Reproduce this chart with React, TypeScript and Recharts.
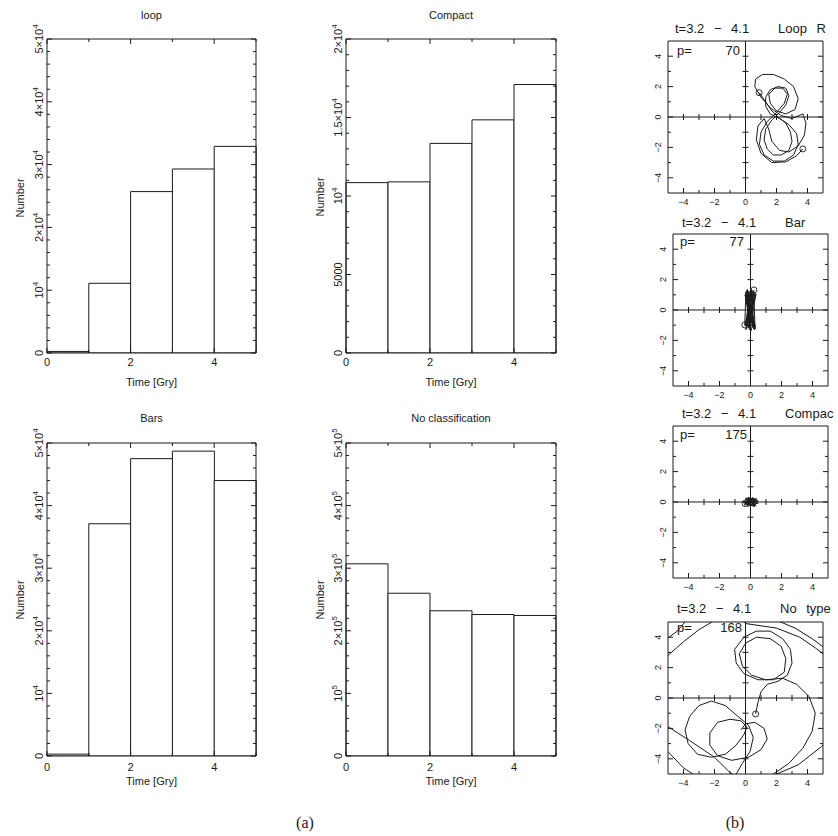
import React from "react";
import { ComposedChart, Bar, Scatter, XAxis, YAxis, ReferenceLine } from "recharts";

const SANS = "'Liberation Sans', Arial, Helvetica, sans-serif";
const SERIF = "'Liberation Serif', 'Times New Roman', serif";
const INK = "#1a1a1a";

// (a) histograms: number per 1 Gyr time bin
const bins = ["0-1", "1-2", "2-3", "3-4", "4-5"];
const binMid = [0.5, 1.5, 2.5, 3.5, 4.5];
const loopCounts = [250, 11100, 25700, 29300, 32900];
const compactCounts = [10850, 10900, 13350, 14850, 17100];
const barsCounts = [300, 37100, 47500, 48700, 44000];
const noClassCounts = [307000, 260000, 232000, 226000, 224500];

// tick labels: [value, text, superscript]
type Lab = [number, string, string];
const timeTicks = [0, 1, 2, 3, 4, 5];
const timeLabels: Lab[] = [[0, "0", ""], [2, "2", ""], [4, "4", ""]];
const loopLabels: Lab[] = [[0, "0", ""], [10000, "10", "4"], [20000, "2×10", "4"], [30000, "3×10", "4"], [40000, "4×10", "4"], [50000, "5×10", "4"]];
const compactLabels: Lab[] = [[0, "0", ""], [5000, "5000", ""], [10000, "10", "4"], [15000, "1.5×10", "4"], [20000, "2×10", "4"]];
const barsLabels: Lab[] = loopLabels;
const noClassLabels: Lab[] = [[0, "0", ""], [100000, "10", "5"], [200000, "2×10", "5"], [300000, "3×10", "5"], [400000, "4×10", "5"], [500000, "5×10", "5"]];

// (b) orbit panels
const orbitTicks = [-4, -3, -2, -1, 0, 1, 2, 3, 4];
const orbitLabels: Lab[] = [[-4, "−4", ""], [-2, "−2", ""], [0, "0", ""], [2, "2", ""], [4, "4", ""]];
const orbitCross = [-4, -3, -2, -1, 1, 2, 3, 4];

const loopOrbit = [
  [0.88, 1.6], [1.3, 1.0], [1.7, 0.4], [2.1, 0.0], [2.6, -0.4], [2.9, -1.0], [3.0, -1.6], [2.8, -2.2], [2.3, -2.5], [1.8, -2.5],
  [1.4, -2.1], [1.2, -1.5], [1.3, -0.8], [1.7, -0.2], [2.2, 0.3], [2.6, 0.8], [2.8, 1.4], [2.6, 1.9], [2.1, 2.0], [1.6, 1.8],
  [1.3, 1.3], [1.3, 0.7], [1.6, 0.2], [2.2, -0.1], [2.8, -0.5], [3.3, -1.1], [3.4, -1.8], [3.1, -2.5], [2.5, -2.9], [1.8, -2.9],
  [1.2, -2.5], [0.9, -1.8], [1.0, -1.0], [1.4, -0.3], [2.0, 0.3], [2.5, 0.9], [2.7, 1.5], [2.4, 1.9], [1.9, 1.9], [1.5, 1.5],
  [1.6, 0.9], [2.0, 0.4], [2.6, 0.2], [3.2, 0.5], [3.4, 1.2], [3.1, 2.0], [2.5, 2.5], [1.8, 2.8], [1.1, 2.8], [0.65, 2.5],
  [0.6, 2.0], [1.0, 1.3], [1.6, 0.6], [2.3, 0.1], [3.0, -0.1], [3.7, 0.2], [3.9, -0.4], [3.8, -1.2], [3.4, -1.9], [2.8, -2.3],
  [2.2, -2.2], [1.7, -1.6], [1.5, -0.8], [1.2, -0.1], [0.8, -0.6], [0.7, -1.5], [1.0, -2.4], [1.7, -3.0], [2.6, -2.95], [3.3, -2.55],
  [3.7, -2.1],
];
const loopEnds = [[0.88, 1.6], [3.7, -2.1]];

const barOrbit = [
  [0.22, 1.32], [-0.15, -1.2], [0.3, 1.15], [-0.3, -1.3], [0.1, 1.3], [0.2, -1.25], [-0.3, 1.2], [0.3, -1.1], [-0.2, 1.35], [0.05, -1.35],
  [-0.35, 1.0], [0.25, -1.3], [-0.1, 1.25], [-0.25, -1.15], [0.35, 1.05], [-0.05, -1.3], [-0.25, 1.3], [0.3, -1.25], [0.2, 1.2], [-0.35, -1.05],
  [0.05, 1.35], [0.15, -1.15], [-0.3, 1.1], [-0.37, -0.98],
];
const barEnds = [[0.22, 1.32], [-0.37, -0.98]];

const compactOrbit = [
  [-0.35, -0.1], [0.4, 0.2], [-0.3, 0.25], [0.5, -0.1], [-0.5, 0.05], [0.3, -0.25], [-0.15, 0.3], [0.45, 0.1], [-0.4, -0.2], [0.15, 0.3],
  [0.35, -0.25], [-0.35, 0.2], [0.5, 0.05], [-0.2, -0.3], [0.1, 0.25], [-0.45, -0.05], [0.25, -0.3], [0.05, 0.0],
];
const compactEnds = [[-0.35, -0.1], [0.05, 0.0]];

// the "no type" orbit leaves the box, so it is drawn in two pieces
const noTypeOrbitA = [
  [0.65, -1.05], [0.8, -0.3], [1.0, 0.4], [1.4, 0.9], [2.1, 1.1], [2.7, 1.5], [3.0, 2.3], [2.9, 3.2], [2.4, 3.9], [1.6, 4.4],
  [0.7, 4.4], [-0.1, 4.0], [-0.7, 3.2], [-0.6, 2.3], [-0.1, 1.6], [0.8, 1.2], [1.8, 1.2], [2.5, 1.7], [2.6, 2.6], [2.3, 3.4],
  [1.6, 3.9], [0.7, 4.0], [0.0, 3.6], [-0.4, 2.9], [-0.2, 2.1], [0.4, 1.5], [1.3, 1.2], [2.4, 1.3], [3.3, 0.9], [4.1, 0.1],
  [4.5, -1.0], [4.3, -2.2], [3.7, -3.3], [2.8, -4.3], [1.8, -5.0], [0.5, -5.4], [-0.6, -5.0], [-0.2, -4.3], [0.3, -3.5], [0.5, -2.6],
  [0.2, -1.8], [-0.5, -1.2], [-1.3, -0.5], [-2.2, -0.2], [-3.0, -0.5], [-3.6, -1.2], [-3.9, -2.1], [-3.7, -3.0], [-3.1, -3.7], [-2.2, -3.9],
  [-1.3, -3.7], [-0.6, -3.1], [-0.1, -2.4], [0.1, -1.9], [-0.3, -1.5], [-1.0, -1.4], [-1.8, -1.6], [-2.3, -2.3], [-2.3, -3.1], [-1.8, -3.8],
  [-0.9, -4.1], [0.2, -3.9], [1.0, -3.4], [1.4, -2.7], [1.2, -2.0], [0.6, -1.6], [0.0, -1.7], [-0.3, -2.1],
];
const noTypeOrbitB = [
  [0.5, -6.0], [-1.0, -4.9], [-2.0, -3.9], [-3.6, -2.8], [-5.6, -1.5], [-6.5, 0.5], [-6.0, 2.2], [-5.0, 2.8], [-4.0, 3.7], [-3.0, 4.5],
  [-2.0, 5.1], [-0.5, 5.6], [0.0, 4.9], [2.0, 4.6], [3.5, 4.0], [4.5, 3.3], [5.5, 2.5], [6.2, 0.0], [6.0, -2.0], [4.9, -3.2],
  [3.4, -4.4], [2.0, -5.0], [0.0, -5.8], [-2.5, -5.6], [-4.0, -4.6], [-5.5, -3.0], [-6.5, -1.0], [-6.5, 2.5], [-5.2, 3.8], [-4.4, 4.4],
  [-3.5, 5.5], [1.8, 5.2], [3.2, 4.6], [4.3, 3.9], [5.5, 3.0],
];
const noTypeEnds = [[0.65, -1.05]];

function stepTicks(max: number, step: number) {
  const out: number[] = [];
  for (let v = 0; v <= max + 1e-6; v += step) out.push(Math.round(v));
  return out;
}

type Side = "bottom" | "top" | "left" | "right";

// draws an inward tick; text only when asked
function tickRenderer(side: Side, labels: Lab[], showText: boolean, fs: number, gap: number, majLen: number, minLen: number) {
  return (p: any) => {
    const v = Number(p.payload?.value);
    const lab = labels.find((l) => Math.abs(l[0] - v) < 1e-6);
    const len = lab ? majLen : minLen;
    const x = p.x;
    const y = p.y;
    let x2 = x;
    let y2 = y;
    if (side === "bottom") y2 = y - len;
    if (side === "top") y2 = y + len;
    if (side === "left") x2 = x + len;
    if (side === "right") x2 = x - len;
    const content =
      lab && showText ? (
        <>
          {lab[1]}
          {lab[2] ? (
            <tspan dy={-fs * 0.45} fontSize={fs * 0.72}>
              {lab[2]}
            </tspan>
          ) : null}
        </>
      ) : null;
    return (
      <g>
        <line x1={x} y1={y} x2={x2} y2={y2} stroke={INK} strokeWidth={1} />
        {content && side === "bottom" && (
          <text x={x} y={y + gap} textAnchor="middle" fontSize={fs} fontFamily={SANS} fill={INK}>
            {content}
          </text>
        )}
        {content && side === "left" && (
          <text x={x - gap} y={y} transform={`rotate(-90 ${x - gap} ${y})`} textAnchor="middle" fontSize={fs} fontFamily={SANS} fill={INK}>
            {content}
          </text>
        )}
      </g>
    );
  };
}

const axisCommon = {
  tickSize: 0,
  tickMargin: 0,
  tickLine: false,
  interval: 0 as const,
  allowDataOverflow: true,
  axisLine: { stroke: INK, strokeWidth: 1 },
};

function Histogram(props: { left: number; top: number; w: number; h: number; counts: number[]; yMax: number; yStep: number; yLabels: Lab[]; xGap: number }) {
  const { left, top, w, h, counts, yMax, yStep, yLabels, xGap } = props;
  const data = bins.map((b, i) => ({ b, t: binMid[i], n: counts[i] }));
  const yTicks = stepTicks(yMax, yStep);
  return (
    <div style={{ position: "absolute", left: left - 60, top: top - 40 }}>
      <ComposedChart width={w + 80} height={h + 80} data={data} margin={{ top: 39, right: 19, bottom: 39, left: 0 }} barCategoryGap={0} barGap={0}>
        <XAxis xAxisId="cat" dataKey="b" type="category" hide />
        <XAxis dataKey="t" type="number" domain={[0, 5]} ticks={timeTicks} height={1} tick={tickRenderer("bottom", timeLabels, true, 11, xGap, 5, 3)} {...axisCommon} />
        <XAxis xAxisId="top" dataKey="t" orientation="top" type="number" domain={[0, 5]} ticks={timeTicks} height={1} tick={tickRenderer("top", timeLabels, false, 11, 0, 5, 3)} {...axisCommon} />
        <YAxis dataKey="n" type="number" domain={[0, yMax]} ticks={yTicks} width={60} tick={tickRenderer("left", yLabels, true, 11, 4, 5, 3)} {...axisCommon} />
        <YAxis yAxisId="right" dataKey="n" orientation="right" type="number" domain={[0, yMax]} ticks={yTicks} width={1} tick={tickRenderer("right", yLabels, false, 11, 0, 5, 3)} {...axisCommon} />
        <Bar xAxisId="cat" dataKey="n" fill="#fff" stroke={INK} strokeWidth={1} isAnimationActive={false} />
      </ComposedChart>
    </div>
  );
}

const Empty = () => <g />;
const OpenDot = (p: any) => <circle cx={p.cx} cy={p.cy} r={3} fill="none" stroke={INK} strokeWidth={0.9} />;
const VTick = (p: any) => <line x1={p.cx} y1={p.cy - 3} x2={p.cx} y2={p.cy + 3} stroke={INK} strokeWidth={1} />;
const HTick = (p: any) => <line x1={p.cx - 3} y1={p.cy} x2={p.cx + 3} y2={p.cy} stroke={INK} strokeWidth={1} />;

function OrbitPanel(props: { left: number; top: number; w: number; h: number; paths: number[][][]; ends: number[][] }) {
  const { left, top, w, h, paths, ends } = props;
  const endPts = ends.map(([x, y]) => ({ x, y }));
  const crossX = orbitCross.map((v) => ({ x: v, y: 0 }));
  const crossY = orbitCross.map((v) => ({ x: 0, y: v }));
  return (
    <div style={{ position: "absolute", left: left - 40, top: top - 20 }}>
      <ComposedChart width={w + 60} height={h + 40} margin={{ top: 19, right: 19, bottom: 19, left: 0 }}>
        <XAxis dataKey="x" type="number" domain={[-5, 5]} ticks={orbitTicks} height={1} tick={tickRenderer("bottom", orbitLabels, true, 9, 12, 5, 3)} {...axisCommon} />
        <XAxis xAxisId="top" orientation="top" type="number" domain={[-5, 5]} ticks={orbitTicks} height={1} tick={tickRenderer("top", orbitLabels, false, 9, 0, 5, 3)} {...axisCommon} />
        <YAxis dataKey="y" type="number" domain={[-5, 5]} ticks={orbitTicks} width={40} tick={tickRenderer("left", orbitLabels, true, 9, 7, 5, 3)} {...axisCommon} />
        <YAxis yAxisId="right" orientation="right" type="number" domain={[-5, 5]} ticks={orbitTicks} width={1} tick={tickRenderer("right", orbitLabels, false, 9, 0, 5, 3)} {...axisCommon} />
        <ReferenceLine x={0} stroke={INK} strokeWidth={1} />
        <ReferenceLine y={0} stroke={INK} strokeWidth={1} />
        <Scatter data={crossX} shape={VTick} isAnimationActive={false} />
        <Scatter data={crossY} shape={HTick} isAnimationActive={false} />
        {paths.map((path, i) => (
          <Scatter
            key={i}
            data={path.map(([x, y]) => ({ x, y }))}
            line={{ stroke: INK, strokeWidth: 1 }}
            lineType="joint"
            shape={Empty}
            isAnimationActive={false}
          />
        ))}
        <Scatter data={endPts} shape={OpenDot} isAnimationActive={false} />
      </ComposedChart>
    </div>
  );
}

const T = (p: { x: number; y: number; anchor?: "start" | "middle" | "end"; size: number; rot?: boolean; serif?: boolean; ws?: number; children: React.ReactNode }) => (
  <text
    x={p.x}
    y={p.y}
    textAnchor={p.anchor ?? "start"}
    fontSize={p.size}
    fontFamily={p.serif ? SERIF : SANS}
    fill={INK}
    transform={p.rot ? `rotate(-90 ${p.x} ${p.y})` : undefined}
    style={{ whiteSpace: "pre", wordSpacing: p.ws ? `${p.ws}px` : undefined }}
  >
    {p.children}
  </text>
);

export default function App() {
  return (
    <div style={{ position: "absolute", left: 0, top: 0, width: 838, height: 836, overflow: "hidden", background: "#fff" }}>
      <Histogram left={47} top={39} w={209} h={314} counts={loopCounts} yMax={50000} yStep={2000} yLabels={loopLabels} xGap={13} />
      <Histogram left={346} top={39} w={210} h={314} counts={compactCounts} yMax={20000} yStep={1000} yLabels={compactLabels} xGap={13} />
      <Histogram left={47} top={443} w={209} h={313} counts={barsCounts} yMax={50000} yStep={2000} yLabels={barsLabels} xGap={15} />
      <Histogram left={346} top={443} w={210} h={313} counts={noClassCounts} yMax={500000} yStep={20000} yLabels={noClassLabels} xGap={15} />

      <OrbitPanel left={668} top={41} w={155} h={152} paths={[loopOrbit]} ends={loopEnds} />
      <OrbitPanel left={673} top={234} w={155} h={152} paths={[barOrbit]} ends={barEnds} />
      <OrbitPanel left={673} top={426} w={155} h={152} paths={[compactOrbit]} ends={compactEnds} />
      <OrbitPanel left={668} top={622} w={155} h={152} paths={[noTypeOrbitA, noTypeOrbitB]} ends={noTypeEnds} />

      <svg width={838} height={836} style={{ position: "absolute", left: 0, top: 0, pointerEvents: "none" }}>
        <T x={151.5} y={19} anchor="middle" size={11}>loop</T>
        <T x={451} y={19} anchor="middle" size={11}>Compact</T>
        <T x={151.5} y={422} anchor="middle" size={11}>Bars</T>
        <T x={451} y={422} anchor="middle" size={11}>No classification</T>
        <T x={151.5} y={386} anchor="middle" size={11}>Time [Gry]</T>
        <T x={451} y={386} anchor="middle" size={11}>Time [Gry]</T>
        <T x={151.5} y={785} anchor="middle" size={11}>Time [Gry]</T>
        <T x={451} y={785} anchor="middle" size={11}>Time [Gry]</T>
        <T x={24} y={198} anchor="middle" size={11} rot>Number</T>
        <T x={324} y={197} anchor="middle" size={11} rot>Number</T>
        <T x={24} y={600} anchor="middle" size={11} rot>Number</T>
        <T x={324} y={600} anchor="middle" size={11} rot>Number</T>

        <T x={675} y={33} size={13} ws={6}>{"t=3.2 − 4.1   Loop R"}</T>
        <T x={682} y={227} size={13} ws={6}>{"t=3.2 − 4.1   Bar"}</T>
        <T x={682} y={418} size={13} ws={6}>{"t=3.2 − 4.1   Compac"}</T>
        <T x={677} y={613} size={13} ws={6}>{"t=3.2 − 4.1   No type"}</T>

        <T x={677} y={55} size={13}>p=</T>
        <T x={740} y={55} anchor="end" size={13}>70</T>
        <T x={680} y={246} size={13}>p=</T>
        <T x={744} y={246} anchor="end" size={13}>77</T>
        <T x={680} y={439} size={13}>p=</T>
        <T x={747} y={439} anchor="end" size={13}>175</T>
        <T x={677} y={632} size={13}>p=</T>
        <T x={742} y={632} anchor="end" size={13}>168</T>

        <T x={305} y={828} anchor="middle" size={16} serif>(a)</T>
        <T x={735} y={828} anchor="middle" size={16} serif>(b)</T>
      </svg>
    </div>
  );
}
